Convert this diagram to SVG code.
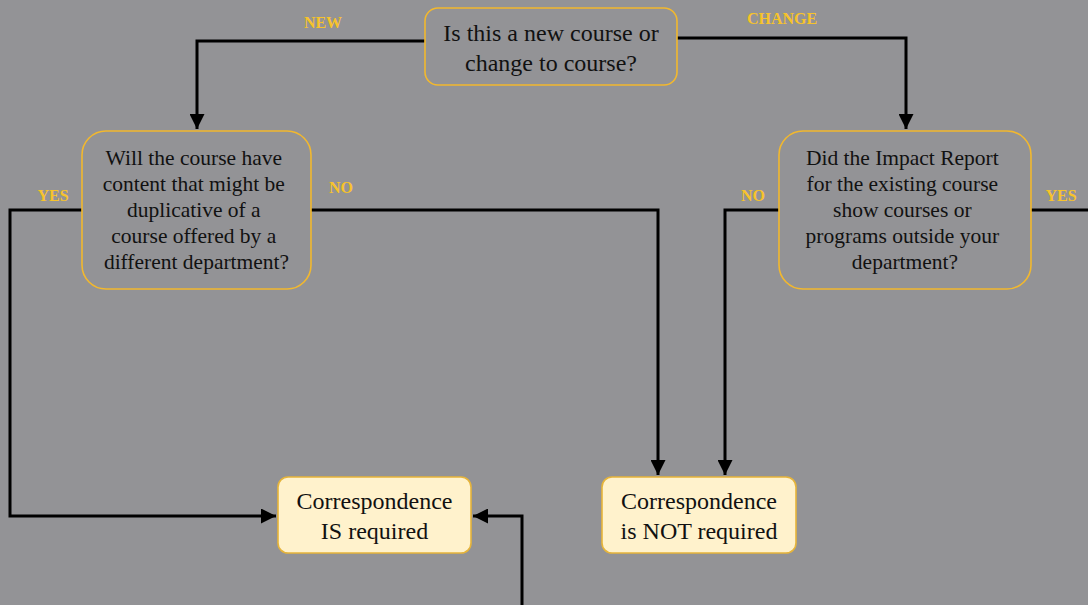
<svg xmlns="http://www.w3.org/2000/svg" width="1088" height="605" viewBox="0 0 1088 605">
  <defs>
    <marker id="arrow" viewBox="0 0 10 10" refX="10" refY="5" markerWidth="5" markerHeight="5" orient="auto" markerUnits="strokeWidth">
      <path d="M0,0 L10,5 L0,10 z" fill="#000"/>
    </marker>
    <style>
      .q { fill: none; stroke: #f2b82e; stroke-width: 1.6; }
      .r { fill: #fff2cc; stroke: #e6b43a; stroke-width: 1.6; }
      .t { font-family: "Liberation Serif", "Times New Roman", serif; fill: #111; text-anchor: middle; }
      .lbl { font-family: "Liberation Serif", "Times New Roman", serif; font-weight: bold; font-size: 16px; fill: #f7c32a; text-anchor: middle; }
      .c { fill: none; stroke: #000; stroke-width: 3; }
    </style>
  </defs>
  <rect width="1088" height="605" fill="#939396"/>

  <g id="connectors">
    <path class="c" d="M425,41 H197 V129" marker-end="url(#arrow)"/>
    <path class="c" d="M677,38 H906 V129" marker-end="url(#arrow)"/>
    <path class="c" d="M82,210 H10 V516 H276" marker-end="url(#arrow)"/>
    <path class="c" d="M311,210 H658 V475" marker-end="url(#arrow)"/>
    <path class="c" d="M779,210 H725 V475" marker-end="url(#arrow)"/>
    <path class="c" d="M1031,210 H1090"/>
    <path class="c" d="M522,607 V516 H473" marker-end="url(#arrow)"/>
  </g>

  <g id="labels">
    <text class="lbl" x="323" y="28">NEW</text>
    <text class="lbl" x="782" y="24">CHANGE</text>
    <text class="lbl" x="53" y="201">YES</text>
    <text class="lbl" x="341" y="193">NO</text>
    <text class="lbl" x="753" y="201">NO</text>
    <text class="lbl" x="1061" y="201">YES</text>
  </g>

  <g id="q-new-or-change">
    <rect class="q" x="425" y="8" width="252" height="77" rx="13"/>
    <text class="t" font-size="24" x="551" y="41">Is this a new course or</text>
    <text class="t" font-size="24" x="551" y="71">change to course?</text>
  </g>

  <g id="q-duplicative">
    <rect class="q" x="82" y="131" width="229" height="158" rx="24"/>
    <text class="t" font-size="21.5">
      <tspan x="196.5" y="165">Will the course have</tspan>
      <tspan x="196.5" y="191">content that might be</tspan>
      <tspan x="196.5" y="217">duplicative of a</tspan>
      <tspan x="196.5" y="243">course offered by a</tspan>
      <tspan x="196.5" y="269">different department?</tspan>
    </text>
  </g>

  <g id="q-impact-report">
    <rect class="q" x="779" y="131" width="252" height="158" rx="24"/>
    <text class="t" font-size="21.5">
      <tspan x="905" y="165">Did the Impact Report</tspan>
      <tspan x="905" y="191">for the existing course</tspan>
      <tspan x="905" y="217">show courses or</tspan>
      <tspan x="905" y="243">programs outside your</tspan>
      <tspan x="905" y="269">department?</tspan>
    </text>
  </g>

  <g id="is-required">
    <rect class="r" x="278" y="477" width="193" height="76" rx="10"/>
    <text class="t" font-size="24" x="374.5" y="509">Correspondence</text>
    <text class="t" font-size="24" x="374.5" y="539">IS required</text>
  </g>

  <g id="not-required">
    <rect class="r" x="602" y="477" width="194" height="76" rx="10"/>
    <text class="t" font-size="24" x="699" y="509">Correspondence</text>
    <text class="t" font-size="24" x="699" y="539">is NOT required</text>
  </g>
</svg>
